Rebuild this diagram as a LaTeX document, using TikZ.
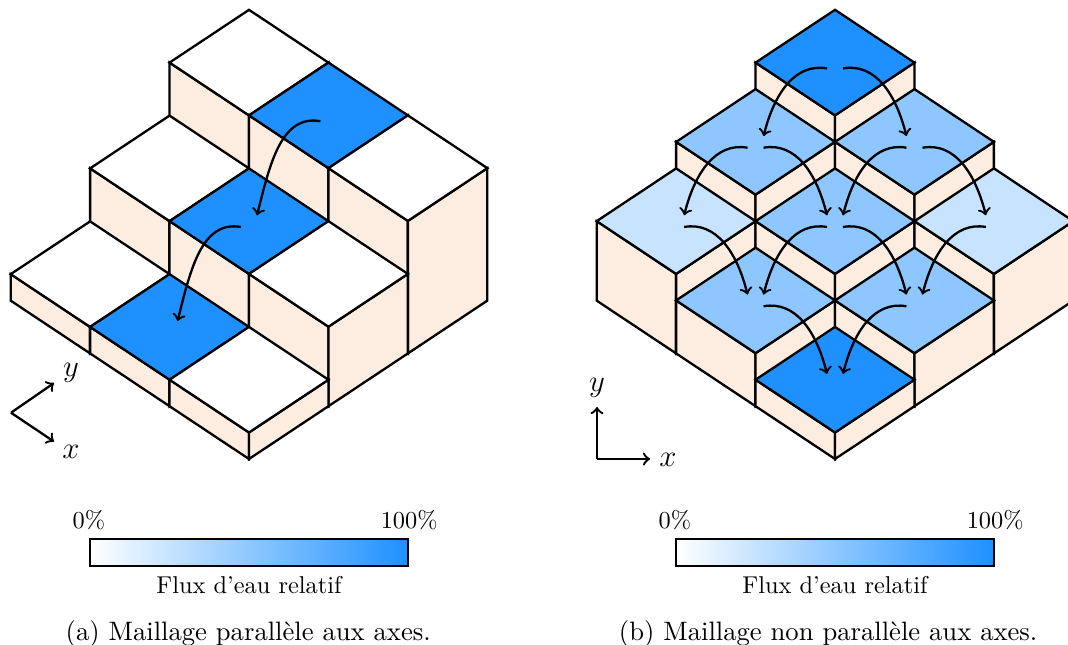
\documentclass[tikz,border=0pt]{standalone}
\usetikzlibrary{calc,positioning}
\pgfdeclarelayer{foreground}
\pgfsetlayers{main,foreground}
\definecolor{eaublue}{HTML}{1E90FF}
\definecolor{mur}{HTML}{FDEDE0}
\tikzset{
  isoA/.style={shift={(3.4156,2.5514)},x={(-1.0897cm,.724cm)},y={(1.0897cm,.724cm)},z={(0cm,.3635cm)}},
  isoB/.style={shift={(11.454,2.5514)},x={(-1.0897cm,.724cm)},y={(1.0897cm,.724cm)},z={(0cm,.3635cm)}},
  edge/.style={line width=.9pt,draw=black},
  flux/.style={line width=.9pt,->,out looseness=.9,in looseness=1.2},
  axe/.style={line width=.9pt,->},
  barre/.style={draw=black,line width=.9pt,inner sep=0,minimum width=4.362cm,minimum height=.37cm,left color=white,right color=eaublue},
  petit/.style={font=\fontsize{9.5}{11}\selectfont},
  legende/.style={font=\fontsize{10.4}{12}\selectfont},
  axelabel/.style={font=\large},
}
% colonne : a, b, hauteur, couleur, prefixe
\newcommand{\colonne}[5]{
  \filldraw[edge,fill=mur] (#1,#2,0) -- (#1+1,#2,0) -- (#1+1,#2,#3) -- (#1,#2,#3) -- cycle;
  \filldraw[edge,fill=mur] (#1,#2,0) -- (#1,#2+1,0) -- (#1,#2+1,#3) -- (#1,#2,#3) -- cycle;
  \filldraw[edge,fill=#4] (#1,#2,#3) -- (#1+1,#2,#3) -- (#1+1,#2+1,#3) -- (#1,#2+1,#3) -- cycle;
  \coordinate (#5#1#2) at (#1+.5,#2+.5,#3);
}
\begin{document}
\begin{tikzpicture}
\clip (0,0) rectangle (14.65,8.8476);

% maillage parallele
\begin{scope}[isoA]
\foreach \a/\b/\h/\c in {2/2/5/white,2/1/3/white,1/2/5/eaublue,2/0/1/white,1/1/3/eaublue,0/2/5/white,1/0/1/eaublue,0/1/3/white,0/0/1/white}
  {\colonne{\a}{\b}{\h}{\c}{p}}
\end{scope}

% maillage non parallele
\begin{scope}[isoB]
\foreach \a/\b/\h/\c in {2/2/5/eaublue,2/1/4/eaublue!50,1/2/4/eaublue!50,2/0/3/eaublue!25,1/1/3/eaublue!50,0/2/3/eaublue!25,1/0/2/eaublue!50,0/1/2/eaublue!50,0/0/1/eaublue}
  {\colonne{\a}{\b}{\h}{\c}{q}}
\end{scope}

\begin{pgfonlayer}{foreground}
\foreach \s/\t in {p12/p11,p11/p10}
  \draw[flux] ($(\s)+(-.11,-.08)$) to[out=170,in=76] ($(\t)+(.11,.08)$);
\foreach \s/\t in {q22/q21,q21/q20,q12/q11,q11/q10,q01/q00,q02/q01}
  \draw[flux] ($(\s)+(-.11,-.08)$) to[out=170,in=76] ($(\t)+(.11,.08)$);
\foreach \s/\t in {q22/q12,q21/q11,q12/q02,q20/q10,q11/q01,q10/q00}
  \draw[flux] ($(\s)+(.11,-.08)$) to[out=10,in=104] ($(\t)+(-.11,.08)$);
\end{pgfonlayer}

% reperes
\coordinate (oA) at (.151,3.186);
\coordinate (xA) at (.741,2.79);
\coordinate (yA) at (.741,3.594);
\draw[axe] (oA) -- (xA);
\draw[axe] (oA) -- (yA);
\node[axelabel] (xlabA) at (.974,2.65) {$x$};
\node[axelabel] (ylabA) at (.974,3.73) {$y$};
\coordinate (oB) at (8.189,2.551);
\coordinate (xB) at (8.917,2.551);
\coordinate (yB) at (8.189,3.265);
\draw[axe] (oB) -- (xB);
\draw[axe] (oB) -- (yB);
\node[axelabel] (xlabB) at (9.163,2.535) {$x$};
\node[axelabel] (ylabB) at (8.189,3.525) {$y$};

% echelles
\foreach \n/\xc in {A/3.4156,B/11.454} {
  \node[barre] (bar\n) at (\xc,1.269) {};
  \node[above,petit,yshift=-.02cm] (zero\n) at (bar\n.north west) {0\%};
  \node[above,petit,yshift=-.02cm] (cent\n) at (bar\n.north east) {100\%};
  \node[below,petit] (flux\n) at (bar\n.south) {Flux d'eau relatif};
}
\node[legende] (capA) at (3.405,.15) {(a) Maillage parallèle aux axes.};
\node[legende] (capB) at (11.36,.15) {(b) Maillage non parallèle aux axes.};
\end{tikzpicture}
\end{document}
